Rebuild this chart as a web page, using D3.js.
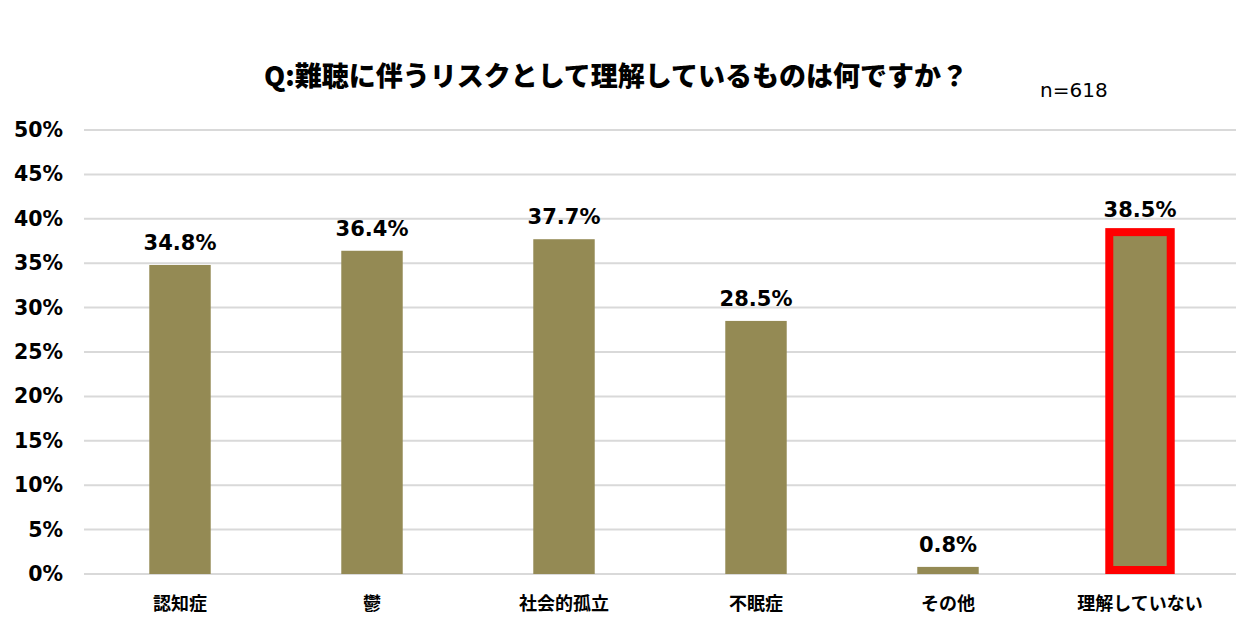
<!DOCTYPE html>
<html>
<head>
<meta charset="utf-8">
<script src="https://cdn.jsdelivr.net/npm/d3@7"></script>
<style>
  body { margin: 0; background: #fff; }
  svg { display: block; }
</style>
</head>
<body>
<div id="chart"></div>
<script>
var categories = ["認知症", "鬱", "社会的孤立", "不眠症", "その他", "理解していない"];
var values = [34.8, 36.4, 37.7, 28.5, 0.8, 38.5];
var highlighted = ["理解していない"];
var yTicks = [0, 5, 10, 15, 20, 25, 30, 35, 40, 45, 50];

var width = 1254, height = 634;
var margin = { top: 130, right: 18, bottom: 60, left: 84 };

var svg = d3.select("#chart").append("svg")
    .attr("width", width)
    .attr("height", height);

var x = d3.scaleBand()
    .domain(categories)
    .range([margin.left, width - margin.right])
    .paddingInner(0.68)
    .paddingOuter(0.34);

var y = d3.scaleLinear()
    .domain([0, 50])
    .range([height - margin.bottom, margin.top]);

// gridlines
svg.append("g")
  .selectAll("line")
  .data(yTicks)
  .enter()
  .append("line")
  .attr("x1", margin.left)
  .attr("x2", width - margin.right)
  .attr("y1", function (d) { return y(d); })
  .attr("y2", function (d) { return y(d); })
  .attr("stroke", "#d9d9d9")
  .attr("stroke-width", 2);

// y axis labels
var yAxis = d3.axisLeft(y)
    .tickValues(yTicks)
    .tickFormat(function (d) { return d + "%"; })
    .tickSize(0)
    .tickPadding(21);

svg.append("g")
  .attr("transform", "translate(" + margin.left + ",0)")
  .call(yAxis)
  .call(function (g) { g.select(".domain").remove(); })
  .selectAll("text")
  .attr("font-family", "DejaVu Sans, Verdana, sans-serif")
  .attr("font-weight", "bold")
  .attr("font-size", 20.5)
  .attr("fill", "#000");

// bars (highlighted bar keeps its red frame above the baseline)
svg.append("g")
  .selectAll("rect")
  .data(categories)
  .enter()
  .append("rect")
  .attr("x", function (d) { return x(d); })
  .attr("y", function (d, i) { return y(values[i]); })
  .attr("width", x.bandwidth())
  .attr("height", function (d, i) {
    return y(0) - y(values[i]) - (highlighted.includes(d) ? 4 : 0);
  })
  .attr("fill", "#948a54")
  .attr("stroke", function (d) { return highlighted.includes(d) ? "#ff0000" : "none"; })
  .attr("stroke-width", 8);

// value labels
svg.append("g")
  .selectAll("text")
  .data(categories)
  .enter()
  .append("text")
  .attr("x", function (d) { return x(d) + x.bandwidth() / 2; })
  .attr("y", function (d, i) { return y(values[i]) - 15; })
  .attr("text-anchor", "middle")
  .attr("font-family", "DejaVu Sans, Verdana, sans-serif")
  .attr("font-weight", "bold")
  .attr("font-size", 21)
  .attr("fill", "#000")
  .text(function (d, i) { return values[i].toFixed(1) + "%"; });

// x axis labels
var xAxis = d3.axisBottom(x).tickSize(0).tickPadding(23);
svg.append("g")
  .attr("transform", "translate(0," + y(0) + ")")
  .call(xAxis)
  .call(function (g) { g.select(".domain").remove(); })
  .selectAll("text")
  .attr("font-family", "Noto Sans CJK JP, sans-serif")
  .attr("font-weight", "bold")
  .attr("font-size", 18)
  .attr("fill", "#000");

// title
svg.append("text")
  .attr("x", 616)
  .attr("y", 86)
  .attr("text-anchor", "middle")
  .attr("font-family", "Noto Sans CJK JP, sans-serif")
  .attr("font-weight", 900)
  .attr("font-size", 27)
  .attr("fill", "#000")
  .text("Q:難聴に伴うリスクとして理解しているものは何ですか？");

svg.append("text")
  .attr("x", 1040)
  .attr("y", 97)
  .attr("font-family", "DejaVu Sans, Verdana, sans-serif")
  .attr("font-size", 20)
  .attr("fill", "#000")
  .text("n=618");
</script>
</body>
</html>
